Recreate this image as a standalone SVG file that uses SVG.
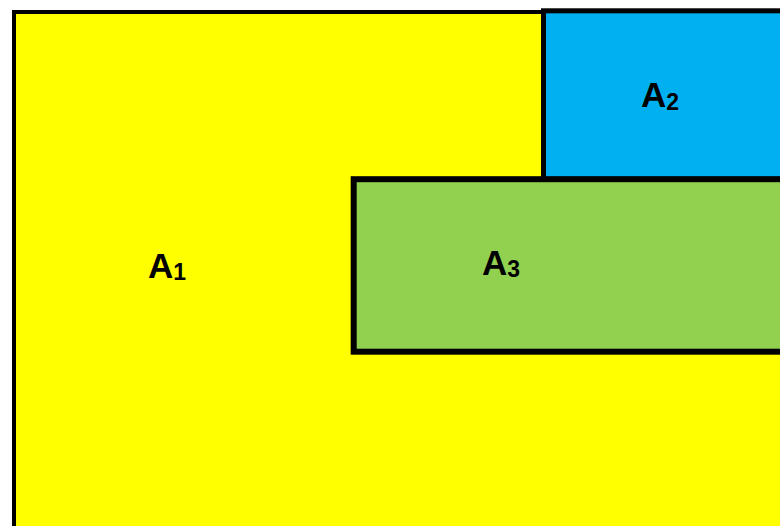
<svg xmlns="http://www.w3.org/2000/svg" width="780" height="526" viewBox="0 0 780 526">
<style>
.box{stroke:#000;stroke-linejoin:miter}
.lbl{font-family:"Liberation Sans",Arial,sans-serif;font-weight:bold;fill:#000}
.main{font-size:35px}
.sub{font-size:23px}
</style>
<rect width="780" height="526" fill="#fff"/>
<g id="A1">
<rect class="box" x="14" y="12" width="800" height="560" fill="#FFFF00" stroke-width="4"/>
<text class="lbl" x="148" y="278"><tspan class="main">A</tspan><tspan class="sub" dy="2">1</tspan></text>
</g>
<g id="A2">
<rect class="box" x="543.5" y="10.8" width="280" height="168.5" fill="#00B0F0" stroke-width="5"/>
<text class="lbl" x="641" y="107"><tspan class="main">A</tspan><tspan class="sub" dy="3">2</tspan></text>
</g>
<g id="A3">
<rect class="box" x="353.7" y="179.2" width="480" height="172.5" fill="#92D050" stroke-width="6"/>
<text class="lbl" x="482" y="275"><tspan class="main">A</tspan><tspan class="sub" dy="2">3</tspan></text>
</g>
<g id="connectors"/>
</svg>
